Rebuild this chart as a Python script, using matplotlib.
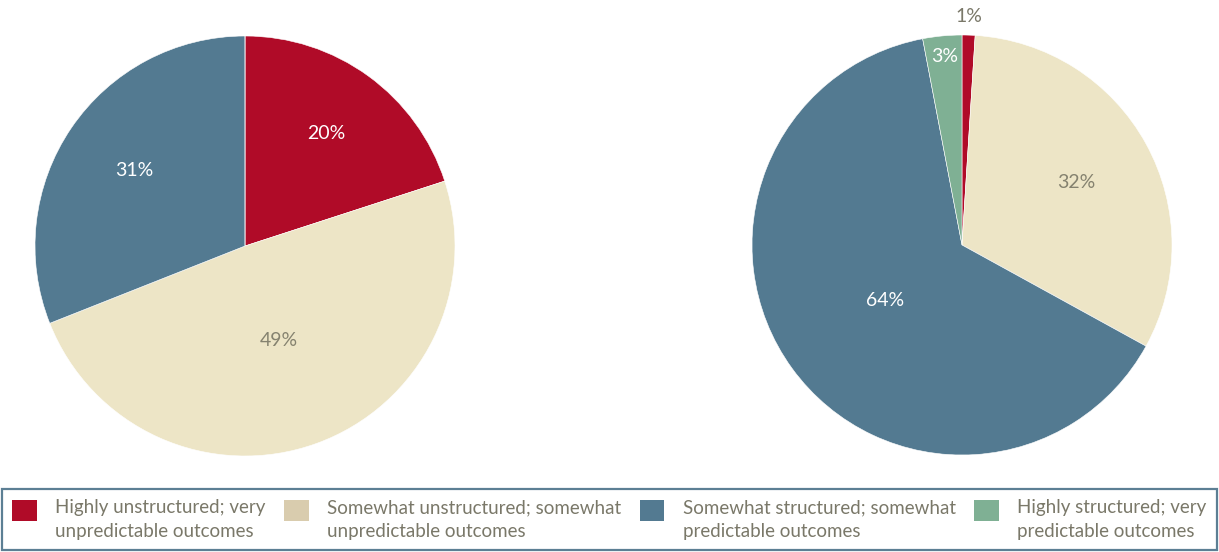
import numpy as np
import matplotlib.pyplot as plt
from matplotlib.patches import Patch, Rectangle
from matplotlib.legend_handler import HandlerPatch

plt.rcParams['font.family'] = ['Lato', 'DejaVu Sans']

categories = ["Highly unstructured; very\nunpredictable outcomes",
              "Somewhat unstructured; somewhat\nunpredictable outcomes",
              "Somewhat structured; somewhat\npredictable outcomes",
              "Highly structured; very\npredictable outcomes"]
left_values = [20, 49, 31, 0]
right_values = [1, 32, 64, 3]

pie_colors = ["#B00B28", "#EDE5C6", "#537A91", "#7FB094"]
legend_colors = ["#B00B28", "#D9CCAE", "#537A91", "#7FB094"]
label_colors = ["white", "#85826F", "white", "white"]
gray = "#7A7869"

# radial position of each percentage label (fraction of radius)
left_dist = [0.66, 0.48, 0.64, 0.5]
right_dist = [1.09, 0.62, 0.45, 0.90]

fig = plt.figure(figsize=(12.19, 5.52), dpi=100)
ax1 = fig.add_axes([35/1219, 96/552, 420/1219, 420/552])
ax2 = fig.add_axes([752/1219, 97/552, 420/1219, 420/552])


def draw_pie(ax, values, dists):
    wedges, _ = ax.pie(values, colors=pie_colors, startangle=90, counterclock=False,
                       radius=1.0, wedgeprops=dict(edgecolor="white", linewidth=0.4))
    for i, (w, v) in enumerate(zip(wedges, values)):
        if v == 0:
            continue
        ang = np.deg2rad((w.theta1 + w.theta2) / 2)
        r = dists[i]
        color = label_colors[i] if r < 1 else gray
        ax.text(r * np.cos(ang), r * np.sin(ang), f"{v}%", ha="center", va="center",
                fontsize=14, color=color)
    ax.set_xlim(-1, 1)
    ax.set_ylim(-1, 1)
    ax.set_aspect("equal")
    ax.axis("off")


draw_pie(ax1, left_values, left_dist)
draw_pie(ax2, right_values, right_dist)


# legend squares sit level with the first text line
def top_square(legend, orig_handle, xdescent, ydescent, width, height, fontsize):
    return Rectangle((-xdescent, -ydescent + 7), width, height)


handles = [Patch(facecolor=c, edgecolor="none") for c in legend_colors]
leg = fig.legend(handles, categories, loc="lower left", ncol=4,
                 bbox_to_anchor=(2/1219, 2/552, 1215/1219, 62/552), mode="expand",
                 frameon=True, fancybox=False, fontsize=13.5, labelcolor=gray,
                 handlelength=1.3, handleheight=1.3, handletextpad=1.0,
                 borderpad=0.55, borderaxespad=0, labelspacing=0.2,
                 handler_map={Patch: HandlerPatch(patch_func=top_square)})
for t in leg.get_texts():
    t.set_linespacing(1.45)
frame = leg.get_frame()
frame.set_edgecolor("#5C7F94")
frame.set_linewidth(1.6)
frame.set_alpha(1)

fig.savefig("out.png", dpi=100)
